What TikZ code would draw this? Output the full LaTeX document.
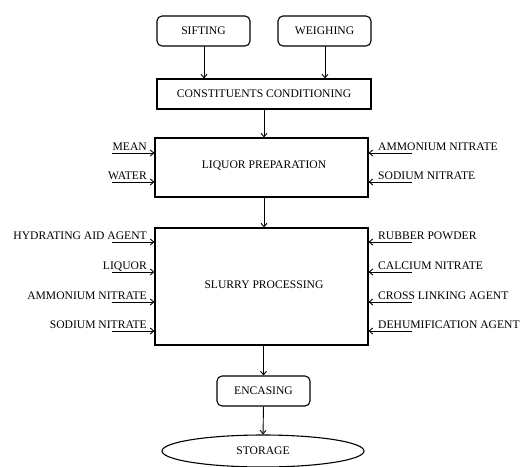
\documentclass[tikz,border=0pt]{standalone}
\usepackage{fontspec}
\setmainfont{Liberation Serif}
\usetikzlibrary{arrows.meta,shapes.geometric}
\begin{document}
\begin{tikzpicture}[x=1pt,y=-1pt,
  font=\fontsize{11.6}{13}\selectfont,
  >={Straight Barb[length=3.5pt,width=6pt]},
  conn/.style={->,line width=0.9pt},
  rbox/.style={draw,line width=1.1pt,rounded corners=5pt,inner sep=0pt},
  sbox/.style={draw,line width=1.1pt,inner sep=0pt},
  lab/.style={inner sep=0pt}]
\useasboundingbox (0,0) rectangle (527,466);
% boxes
\node[rbox,minimum width=93pt,minimum height=30pt] (sift) at (203.5,31) {SIFTING};
\node[rbox,minimum width=93pt,minimum height=30pt] (weigh) at (324.5,31) {WEIGHING};
\node[sbox,minimum width=214pt,minimum height=30pt] (cons) at (264,94) {CONSTITUENTS CONDITIONING};
\node[sbox,minimum width=213pt,minimum height=59pt] (liq) at (261.5,167.5) {};
\node[lab] (liqt) at (264,166) {LIQUOR PREPARATION};
\node[sbox,minimum width=213pt,minimum height=117pt] (slur) at (261.5,286.5) {};
\node[lab] (slurt) at (264,285) {SLURRY PROCESSING};
\node[rbox,minimum width=93pt,minimum height=30pt] (enc) at (263.5,391) {ENCASING};
\node[draw,ellipse,line width=1.1pt,minimum width=202pt,minimum height=32pt,inner sep=0pt] (stor) at (263,451) {};
\node[lab] (stort) at (263,451) {STORAGE};
% main flow
\coordinate (s1) at (204,46);
\coordinate (w1) at (325,46);
\draw[conn] (s1) -- (s1 |- cons.north);
\draw[conn] (w1) -- (w1 |- cons.north);
\coordinate (c1) at (264,109);
\draw[conn] (c1) -- (c1 |- liq.north);
\coordinate (l1) at (264,197);
\draw[conn] (l1) -- (l1 |- slur.north);
\coordinate (p1) at (263.5,345);
\draw[conn] (p1) -- (p1 |- enc.north);
\draw[conn] (enc.south) -- (stor.north);
% liquor inputs left
\coordinate (a1) at (112,153);
\coordinate (a2) at (112,182);
\draw[conn] (a1) -- (a1 -| liq.west);
\draw[conn] (a2) -- (a2 -| liq.west);
\node[lab,anchor=base east] (ta1) at (147,150.5) {MEAN};
\node[lab,anchor=base east] (ta2) at (147,179.5) {WATER};
% liquor inputs right
\coordinate (b1) at (412,153);
\coordinate (b2) at (412,182);
\draw[conn] (b1) -- (b1 -| liq.east);
\draw[conn] (b2) -- (b2 -| liq.east);
\node[lab,anchor=base west] (tb1) at (378,150.5) {AMMONIUM NITRATE};
\node[lab,anchor=base west] (tb2) at (378,179.5) {SODIUM NITRATE};
% slurry inputs left
\coordinate (c1l) at (112,242);
\coordinate (c2l) at (112,272);
\coordinate (c3l) at (112,302);
\coordinate (c4l) at (112,331);
\foreach \c in {c1l,c2l,c3l,c4l} \draw[conn] (\c) -- (\c -| slur.west);
\node[lab,anchor=base east] (tc1) at (147,239.5) {HYDRATING AID AGENT};
\node[lab,anchor=base east] (tc2) at (147,269.5) {LIQUOR};
\node[lab,anchor=base east] (tc3) at (147,299.5) {AMMONIUM NITRATE};
\node[lab,anchor=base east] (tc4) at (147,328.5) {SODIUM NITRATE};
% slurry inputs right
\coordinate (d1) at (412,242);
\coordinate (d2) at (412,272);
\coordinate (d3) at (412,302);
\coordinate (d4) at (412,331);
\foreach \c in {d1,d2,d3,d4} \draw[conn] (\c) -- (\c -| slur.east);
\node[lab,anchor=base west] (td1) at (378,239.5) {RUBBER POWDER};
\node[lab,anchor=base west] (td2) at (378,269.5) {CALCIUM NITRATE};
\node[lab,anchor=base west] (td3) at (378,299.5) {CROSS LINKING AGENT};
\node[lab,anchor=base west] (td4) at (378,328.5) {DEHUMIFICATION AGENT};
\end{tikzpicture}
\end{document}
